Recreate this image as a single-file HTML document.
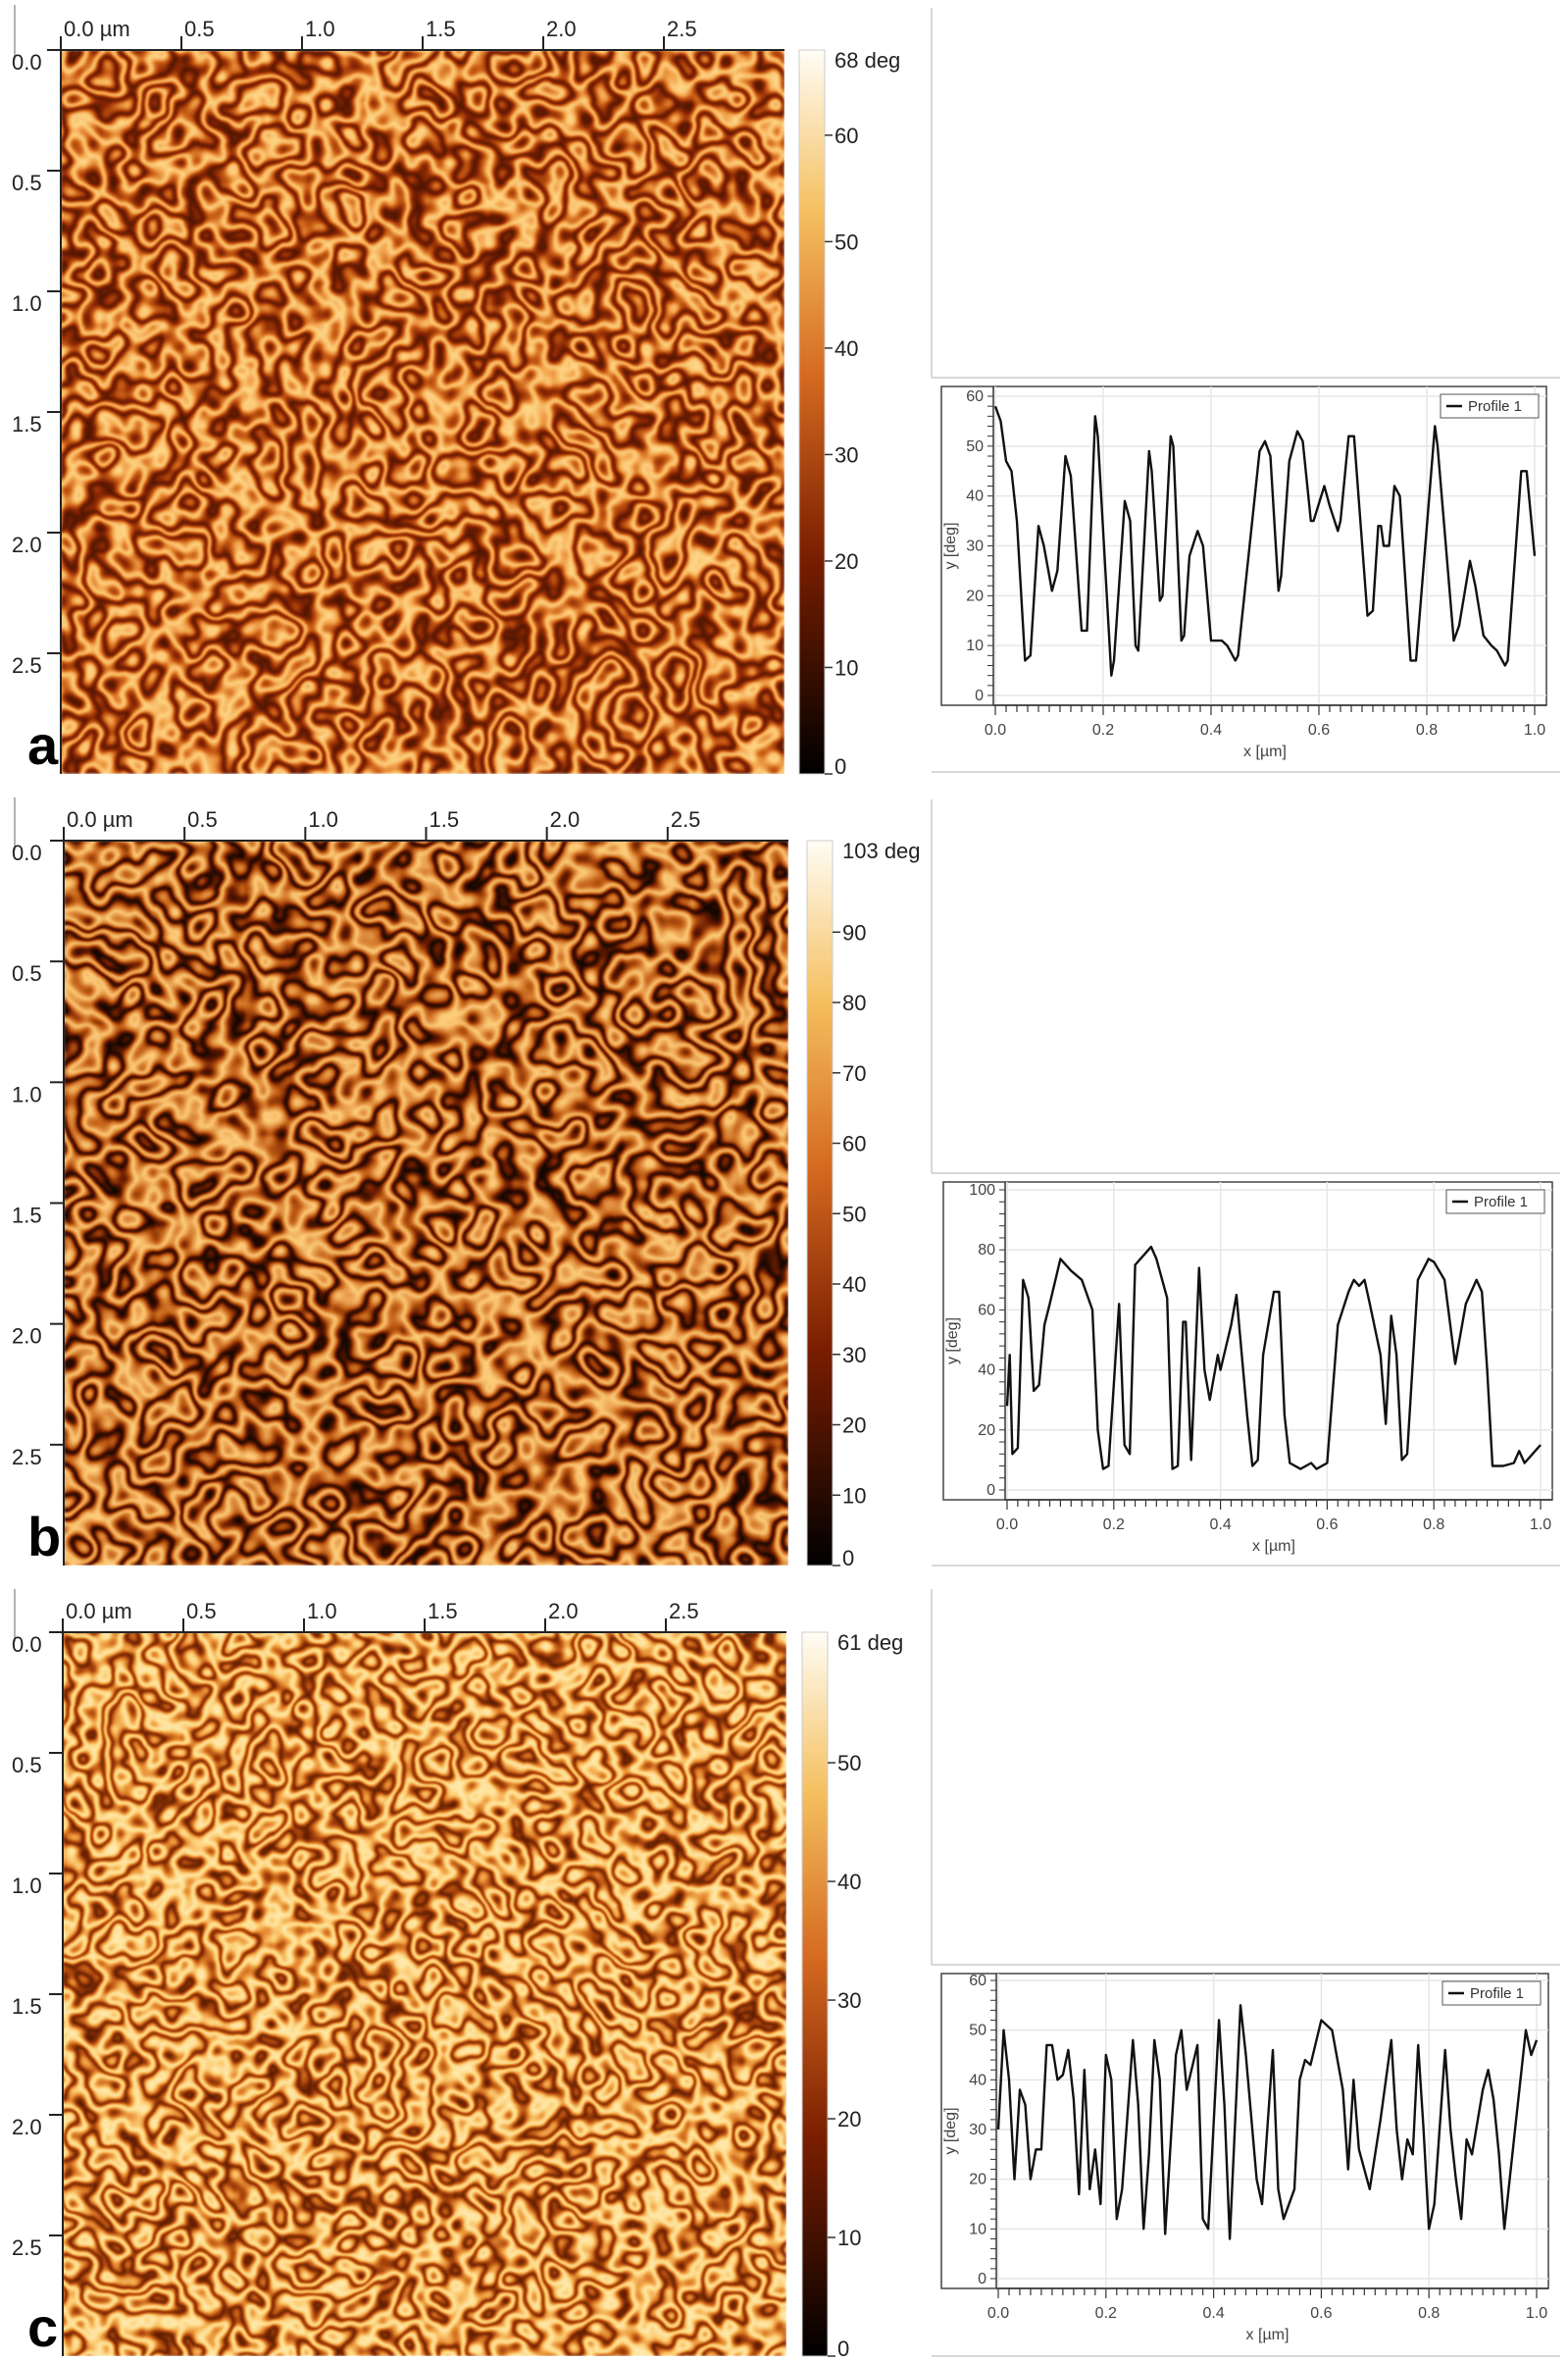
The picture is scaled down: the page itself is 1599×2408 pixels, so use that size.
<!DOCTYPE html>
<html><head><meta charset="utf-8">
<style>
html,body{margin:0;padding:0;background:#fff;}
body{width:1599px;height:2408px;position:relative;overflow:hidden;font-family:"Liberation Sans",sans-serif;}
svg{position:absolute;left:0;top:0;}
</style></head>
<body>
<svg id="root" width="1599" height="2408" viewBox="0 0 1599 2408">
<defs>
<filter id="labA" x="0" y="0" width="100%" height="100%" color-interpolation-filters="sRGB">
<feTurbulence type="fractalNoise" baseFrequency="0.024" numOctaves="2" seed="3"/>
<feColorMatrix type="matrix" values="1 0 0 0 0 1 0 0 0 0 1 0 0 0 0 0 0 0 0 1"/>
<feComponentTransfer><feFuncR type="table" tableValues="0 1 0 1 0 1 0 1 0 1 0"/><feFuncG type="table" tableValues="0 1 0 1 0 1 0 1 0 1 0"/><feFuncB type="table" tableValues="0 1 0 1 0 1 0 1 0 1 0"/></feComponentTransfer>
<feGaussianBlur stdDeviation="1.2"/>
<feComponentTransfer><feFuncR type="table" tableValues="0.3 0.55 0.78 0.95 1"/><feFuncG type="table" tableValues="0.08 0.16 0.36 0.64 0.86"/><feFuncB type="table" tableValues="0 0.02 0.08 0.3 0.55"/></feComponentTransfer>
</filter>
<filter id="labB" x="0" y="0" width="100%" height="100%" color-interpolation-filters="sRGB">
<feTurbulence type="fractalNoise" baseFrequency="0.022" numOctaves="2" seed="11"/>
<feColorMatrix type="matrix" values="1 0 0 0 0 1 0 0 0 0 1 0 0 0 0 0 0 0 0 1"/>
<feComponentTransfer><feFuncR type="table" tableValues="0 1 0 1 0 1 0 1 0 1 0"/><feFuncG type="table" tableValues="0 1 0 1 0 1 0 1 0 1 0"/><feFuncB type="table" tableValues="0 1 0 1 0 1 0 1 0 1 0"/></feComponentTransfer>
<feGaussianBlur stdDeviation="1.1"/>
<feComponentTransfer><feFuncR type="table" tableValues="0.05 0.42 0.75 0.9 1"/><feFuncG type="table" tableValues="0.02 0.11 0.36 0.6 0.82"/><feFuncB type="table" tableValues="0 0 0.08 0.28 0.5"/></feComponentTransfer>
</filter>
<filter id="labC" x="0" y="0" width="100%" height="100%" color-interpolation-filters="sRGB">
<feTurbulence type="fractalNoise" baseFrequency="0.027" numOctaves="2" seed="27"/>
<feColorMatrix type="matrix" values="1 0 0 0 0 1 0 0 0 0 1 0 0 0 0 0 0 0 0 1"/>
<feComponentTransfer><feFuncR type="table" tableValues="0 1 0 1 0 1 0 1 0 1 0"/><feFuncG type="table" tableValues="0 1 0 1 0 1 0 1 0 1 0"/><feFuncB type="table" tableValues="0 1 0 1 0 1 0 1 0 1 0"/></feComponentTransfer>
<feGaussianBlur stdDeviation="1.0"/>
<feComponentTransfer><feFuncR type="table" tableValues="0.35 0.68 0.9 0.99 1"/><feFuncG type="table" tableValues="0.1 0.28 0.55 0.8 0.93"/><feFuncB type="table" tableValues="0 0.05 0.2 0.45 0.7"/></feComponentTransfer>
</filter>
<linearGradient id="cbar" x1="0" y1="1" x2="0" y2="0">
<stop offset="0" stop-color="#000"/><stop offset="0.3" stop-color="#7a1e00"/><stop offset="0.55" stop-color="#d56a20"/><stop offset="0.78" stop-color="#f5c060"/><stop offset="1" stop-color="#fffdf5"/>
</linearGradient>
</defs>
</svg>
<script>
// profile data (x in µm, y in deg)
const profAx=[0,0.01,0.02,0.03,0.04,0.055,0.065,0.08,0.09,0.105,0.115,0.13,0.14,0.16,0.17,0.185,0.19,0.215,0.22,0.24,0.25,0.26,0.265,0.285,0.29,0.305,0.31,0.325,0.33,0.345,0.35,0.36,0.375,0.385,0.4,0.42,0.43,0.445,0.45,0.49,0.5,0.51,0.525,0.53,0.545,0.56,0.57,0.585,0.59,0.61,0.62,0.635,0.64,0.655,0.665,0.69,0.7,0.71,0.715,0.72,0.73,0.74,0.75,0.77,0.78,0.815,0.82,0.85,0.86,0.88,0.89,0.905,0.92,0.93,0.945,0.95,0.975,0.985,1.0];
const profAy=[58,55,47,45,35,7,8,34,30,21,25,48,44,13,13,56,52,4,7,39,35,10,9,49,45,19,20,52,50,11,12,28,33,30,11,11,10,7,8,49,51,48,21,24,47,53,51,35,35,42,38,33,35,52,52,16,17,34,34,30,30,42,40,7,7,54,50,11,14,27,22,12,10,9,6,7,45,45,28];
const profBx=[0,0.005,0.01,0.02,0.03,0.04,0.05,0.06,0.07,0.08,0.1,0.12,0.14,0.16,0.17,0.18,0.19,0.2,0.21,0.22,0.23,0.24,0.26,0.27,0.28,0.3,0.31,0.32,0.33,0.335,0.345,0.36,0.37,0.38,0.395,0.4,0.42,0.43,0.45,0.46,0.47,0.48,0.5,0.51,0.52,0.53,0.55,0.57,0.58,0.6,0.62,0.64,0.65,0.66,0.67,0.68,0.7,0.71,0.72,0.73,0.74,0.75,0.77,0.79,0.8,0.82,0.84,0.86,0.88,0.89,0.9,0.91,0.93,0.95,0.96,0.97,1.0];
const profBy=[28,45,12,14,70,64,33,35,55,62,77,73,70,60,20,7,8,35,62,15,12,75,79,81,77,64,7,8,56,56,10,74,40,30,45,40,55,65,25,8,10,45,66,66,25,9,7,9,7,9,55,66,70,68,70,62,45,22,58,45,10,12,70,77,76,70,42,62,70,66,40,8,8,9,13,9,15];
const profCx=[0,0.01,0.02,0.03,0.04,0.05,0.06,0.07,0.08,0.09,0.1,0.11,0.12,0.13,0.14,0.15,0.16,0.17,0.18,0.19,0.2,0.21,0.22,0.23,0.25,0.26,0.27,0.28,0.29,0.3,0.31,0.33,0.34,0.35,0.37,0.38,0.39,0.41,0.42,0.43,0.45,0.46,0.48,0.49,0.51,0.52,0.53,0.55,0.56,0.57,0.58,0.6,0.62,0.64,0.65,0.66,0.67,0.69,0.71,0.72,0.73,0.74,0.75,0.76,0.77,0.78,0.79,0.8,0.81,0.83,0.84,0.85,0.86,0.87,0.88,0.9,0.91,0.92,0.93,0.94,0.96,0.98,0.99,1.0];
const profCy=[30,50,40,20,38,35,20,26,26,47,47,40,41,46,36,17,42,18,26,15,45,40,12,18,48,35,10,25,48,40,9,45,50,38,47,12,10,52,35,8,55,45,20,15,46,18,12,18,40,44,43,52,50,38,22,40,26,18,32,40,48,30,20,28,25,47,30,10,15,46,30,20,12,28,25,38,42,36,25,10,30,50,45,48];
const axisTicksX=[0,0.2,0.4,0.6,0.8,1.0];
const cbTicksA=[0,10,20,30,40,50,60];
const cbTicksB=[0,10,20,30,40,50,60,70,80,90];
const cbTicksC=[0,10,20,30,40,50];
const umTicks=[0,0.5,1.0,1.5,2.0,2.5];

const NS='http://www.w3.org/2000/svg';
const root=document.getElementById('root');
function mk(tag,attrs,parent){const e=document.createElementNS(NS,tag);for(const k in attrs)e.setAttribute(k,attrs[k]);(parent||root).appendChild(e);return e;}
function txt(s,attrs,parent){const e=mk('text',attrs,parent);e.textContent=s;return e;}

function afm(cfg){
  const g=mk('g',{});
  
  
  const L=cfg.x,T=cfg.y,W=cfg.w,H=cfg.h;
  const img=mk('rect',{x:L,y:T,width:W,height:H,filter:'url(#'+cfg.filter+')'},g);
  
  
  mk('line',{x1:L-3,y1:T,x2:L+W,y2:T,stroke:'#222','stroke-width':2},g);
  mk('line',{x1:L,y1:T-3,x2:L,y2:T+H,stroke:'#222','stroke-width':2},g);
  mk('line',{x1:15,y1:cfg.lineTop,x2:15,y2:T+10,stroke:'#999','stroke-width':1.5},g);
  const ppu=W/3.0;
  umTicks.forEach((v,i)=>{
    const px=L+v*ppu;
    mk('line',{x1:px,y1:T-14,x2:px,y2:T,stroke:'#222','stroke-width':2},g);
    const t=txt(i===0?'0.0 µm':v.toFixed(1),{x:px+3,y:T-14,'font-size':22,fill:'#222'},g);
    
    
    const py=T+v*ppu;
    mk('line',{x1:L-14,y1:py,x2:L,y2:py,stroke:'#222','stroke-width':2},g);
    const t2=txt(v.toFixed(1),{x:12,y:py+20,'font-size':22,fill:'#222'},g);
    
    
  });
  const lt=txt(cfg.letter,{x:28,y:T+H-10,'font-size':56,'font-weight':'bold',fill:'#000'},g);
  
  
  const cx=cfg.cbx,cw=26;
  const cb=mk('rect',{x:cx,y:T,width:cw,height:H,fill:'url(#cbar)',stroke:'#ccc','stroke-width':1},g);
  
  
  const sc=v=>T+H-v/cfg.max*H;
  cfg.ticks.forEach(v=>{
    const y=sc(v);
    mk('line',{x1:cx+cw,y1:y,x2:cx+cw+8,y2:y,stroke:'#333','stroke-width':1.5},g);
    const t=txt(String(v),{x:cx+cw+10,y:Math.min(y+8,T+H),'font-size':22,fill:'#222'},g);
    
    
  });
  const mt=txt(cfg.max+' deg',{x:cx+cw+10,y:T+18,'font-size':22,fill:'#222'},g);
  
  
}

function profile(cfg,xs,ys){
  const g=mk('g',{});
  
  
  mk('line',{x1:950,y1:cfg.emptyTop,x2:950,y2:cfg.boxTop,stroke:'#ccc','stroke-width':1.5},g);
  mk('line',{x1:950,y1:cfg.boxTop,x2:1591,y2:cfg.boxTop,stroke:'#ccc','stroke-width':1.5},g);
  mk('line',{x1:950,y1:cfg.boxBot,x2:1591,y2:cfg.boxBot,stroke:'#ccc','stroke-width':1.5},g);
  const x0=cfg.x0,x1=cfg.x1,y0=cfg.y0,y1=cfg.y1;
  const sx=v=>x0+v*(x1-x0);
  const sy=v=>y0-(v/cfg.ymax)*(y0-y1);
  const fl=cfg.frameL,ft=cfg.frameT,fr=x1+12,fb=y0+10;
  mk('rect',{x:fl,y:ft,width:fr-fl,height:fb-ft,fill:'#fff',stroke:'#444','stroke-width':1.5},g);
  axisTicksX.forEach(v=>{
    mk('line',{x1:sx(v),y1:ft,x2:sx(v),y2:fb,stroke:'#e6e6e6','stroke-width':1.5},g);
  });
  cfg.yt.forEach(v=>{
    mk('line',{x1:x0,y1:sy(v),x2:fr,y2:sy(v),stroke:'#e6e6e6','stroke-width':1.5},g);
  });
  mk('line',{x1:x0-2,y1:fb,x2:fr,y2:fb,stroke:'#333','stroke-width':1.5},g);
  mk('line',{x1:x0-2,y1:ft,x2:x0-2,y2:fb,stroke:'#333','stroke-width':1.5},g);
  for(let i=0;i<=50;i++){const v=i/50;mk('line',{x1:sx(v),y1:fb,x2:sx(v),y2:fb+(i%10===0?10:7),stroke:'#333','stroke-width':1.2},g);}
  const nm=Math.round(cfg.ymax/cfg.minor);
  for(let i=0;i<=nm;i++){const v=i*cfg.minor;mk('line',{x1:x0-2,y1:sy(v),x2:x0-8,y2:sy(v),stroke:'#333','stroke-width':1},g);}
  axisTicksX.forEach(v=>{
    const t=txt(v.toFixed(1),{x:sx(v),y:fb+30,'font-size':16,fill:'#444','text-anchor':'middle'},g);
    
    
  });
  cfg.yt.forEach(v=>{
    const t=txt(String(v),{x:x0-12,y:sy(v)+5,'font-size':16,fill:'#444','text-anchor':'end'},g);
    
    
  });
  const xt=txt('x [µm]',{x:(x0+x1)/2,y:fb+52,'font-size':16,fill:'#444','text-anchor':'middle'},g);
  
  
  const yx=fl+14,yy=(ft+fb)/2;
  const yt=txt('y [deg]',{x:yx,y:yy,'font-size':16,fill:'#444','text-anchor':'middle',transform:'rotate(-90 '+yx+' '+yy+')'},g);
  
  
  let d='';xs.forEach((v,i)=>{d+=(i?'L':'M')+sx(v).toFixed(1)+','+sy(ys[i]).toFixed(1);});
  const p=mk('path',{d:d,fill:'none',stroke:'#111','stroke-width':2.4,'stroke-linejoin':'round'},g);
  
  
  const lx=fr-108,ly=ft+8;
  const lg=mk('g',{},g);
  
  
  mk('rect',{x:lx,y:ly,width:100,height:24,fill:'#fff',stroke:'#555','stroke-width':1},lg);
  mk('line',{x1:lx+6,y1:ly+12,x2:lx+22,y2:ly+12,stroke:'#111','stroke-width':2.5},lg);
  txt('Profile 1',{x:lx+28,y:ly+17,'font-size':15,fill:'#333'},lg);
}

afm({letter:'a',x:62,y:51,w:738,h:738,filter:'labA',cbx:815,max:68,ticks:cbTicksA,lineTop:5});
afm({letter:'b',x:65,y:857,w:739,h:739,filter:'labB',cbx:823,max:103,ticks:cbTicksB,lineTop:813});
afm({letter:'c',x:64,y:1664,w:738,h:738,filter:'labC',cbx:818,max:61,ticks:cbTicksC,lineTop:1620});

profile({letter:'a',emptyTop:8,boxTop:385,boxBot:787,frameL:960,frameT:394,x0:1015,x1:1565,y0:709,y1:404,ymax:60,yt:[0,10,20,30,40,50,60],minor:2},profAx,profAy);
profile({letter:'b',emptyTop:815,boxTop:1196,boxBot:1596,frameL:962,frameT:1205,x0:1027,x1:1571,y0:1519,y1:1213,ymax:100,yt:[0,20,40,60,80,100],minor:4},profBx,profBy);
profile({letter:'c',emptyTop:1620,boxTop:2003,boxBot:2402,frameL:960,frameT:2012,x0:1018,x1:1567,y0:2323,y1:2019,ymax:60,yt:[0,10,20,30,40,50,60],minor:2},profCx,profCy);
</script>
</body></html>
